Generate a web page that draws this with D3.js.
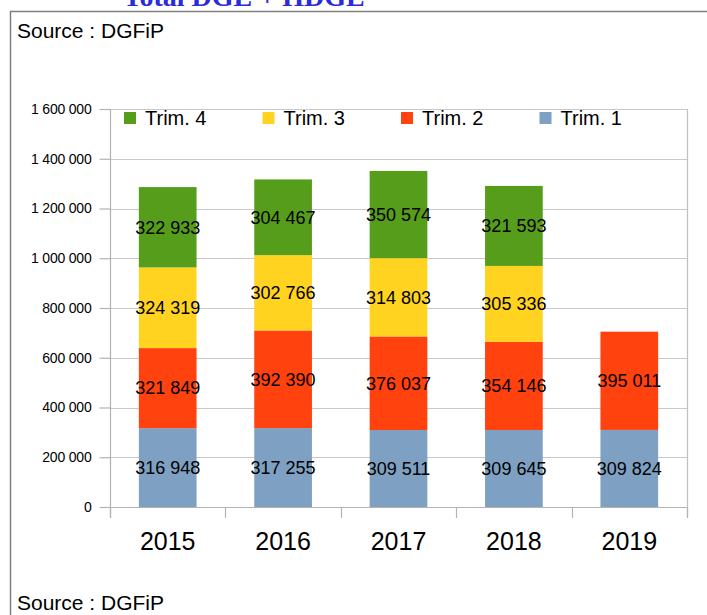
<!DOCTYPE html>
<html>
<head>
<meta charset="utf-8">
<script src="https://cdn.jsdelivr.net/npm/d3@7"></script>
<style>
  body { margin: 0; background: #fff; }
  svg { display: block; font-family: "Liberation Sans", Arial, sans-serif; }
</style>
</head>
<body>
<div id="chart"></div>
<script>
// data
var years = ["2015", "2016", "2017", "2018", "2019"];
var trim1 = [316948, 317255, 309511, 309645, 309824];
var trim2 = [321849, 392390, 376037, 354146, 395011];
var trim3 = [324319, 302766, 314803, 305336, null];
var trim4 = [322933, 304467, 350574, 321593, null];
var seriesNames = ["Trim. 1", "Trim. 2", "Trim. 3", "Trim. 4"];
var legendOrder = ["Trim. 4", "Trim. 3", "Trim. 2", "Trim. 1"];
var yTicks = [0, 200000, 400000, 600000, 800000, 1000000, 1200000, 1400000, 1600000];

var colors = {
    "Trim. 1": "#7ea0c2",
    "Trim. 2": "#ff420e",
    "Trim. 3": "#ffd320",
    "Trim. 4": "#579d1c"
};

var width = 707, height = 615;
var svg = d3.select("#chart").append("svg")
    .attr("width", width).attr("height", height);

var plot = { left: 110, right: 687, top: 109, bottom: 507 };

var x = d3.scaleBand().domain(years)
    .range([plot.left, plot.right]).paddingInner(0.5).paddingOuter(0.25);
var y = d3.scaleLinear().domain([0, 1600000]).range([plot.bottom, plot.top]);

// thousands with a space
var fmt = function(v) { return d3.format(",")(v).replace(/,/g, " "); };

// title (cut off by the top edge, as in the original)
svg.append("text")
    .attr("x", 244).attr("y", 6)
    .attr("text-anchor", "middle")
    .style("font-family", "'Liberation Serif', 'DejaVu Serif', serif")
    .style("font-weight", "bold")
    .style("font-size", "28px")
    .attr("fill", "#2b2bdc")
    .text("Total DGE + HDGE");

// frame
svg.append("path")
    .attr("d", "M10.5," + (height + 5) + "V11.5H" + (width + 5))
    .attr("fill", "none").attr("stroke", "#7f7f7f").attr("stroke-width", 1.5);

svg.append("text").attr("x", 17).attr("y", 38)
    .style("font-size", "21px").attr("fill", "#000").text("Source : DGFiP");
svg.append("text").attr("x", 17).attr("y", 610)
    .style("font-size", "21px").attr("fill", "#000").text("Source : DGFiP");

// grid
svg.append("g").selectAll("line").data(yTicks.slice(1)).join("line")
    .attr("x1", plot.left).attr("x2", plot.right)
    .attr("y1", function(d) { return Math.round(y(d)) + 0.5; })
    .attr("y2", function(d) { return Math.round(y(d)) + 0.5; })
    .attr("stroke", "#c8c8c8").attr("stroke-width", 1.2);

svg.append("line")
    .attr("x1", plot.right + 0.5).attr("x2", plot.right + 0.5)
    .attr("y1", plot.top).attr("y2", plot.bottom + 11)
    .attr("stroke", "#c0c0c0").attr("stroke-width", 1.2);

// y axis
var yAxis = d3.axisLeft(y).tickValues(yTicks).tickSize(11).tickPadding(8)
    .tickFormat(fmt);
var gy = svg.append("g").attr("transform", "translate(" + (plot.left + 0.5) + ",0)").call(yAxis);
gy.select(".domain").attr("d", "M0," + plot.top + "V" + (plot.bottom + 11))
    .attr("stroke", "#b3b3b3").attr("stroke-width", 1.2);
gy.selectAll(".tick line").attr("stroke", "#b3b3b3").attr("stroke-width", 1.2);
gy.selectAll(".tick text")
    .style("font-size", "14px").style("letter-spacing", "-0.2px")
    .attr("fill", "#000");

// x axis baseline + boundary ticks
svg.append("line")
    .attr("x1", plot.left).attr("x2", plot.right)
    .attr("y1", plot.bottom + 0.5).attr("y2", plot.bottom + 0.5)
    .attr("stroke", "#b3b3b3").attr("stroke-width", 1.2);
var bounds = d3.range(years.length + 1).map(function(i) { return plot.left + i * (plot.right - plot.left) / years.length; });
svg.append("g").selectAll("line").data(bounds).join("line")
    .attr("x1", function(d) { return Math.round(d) + 0.5; })
    .attr("x2", function(d) { return Math.round(d) + 0.5; })
    .attr("y1", plot.bottom).attr("y2", plot.bottom + 11)
    .attr("stroke", "#b3b3b3").attr("stroke-width", 1.2);

svg.append("g").selectAll("text").data(years).join("text")
    .attr("x", function(d) { return x(d) + x.bandwidth() / 2; })
    .attr("y", 550)
    .attr("text-anchor", "middle")
    .style("font-size", "25px").attr("fill", "#000")
    .text(function(d) { return d; });

// stacked bars
var table = years.map(function(yr, i) {
    return { year: yr, "Trim. 1": trim1[i], "Trim. 2": trim2[i],
             "Trim. 3": trim3[i] || 0, "Trim. 4": trim4[i] || 0 };
});
var stacked = d3.stack().keys(seriesNames)(table);

var layers = svg.append("g").selectAll("g").data(stacked).join("g")
    .attr("fill", function(d) { return colors[d.key]; });

layers.selectAll("rect").data(function(d) { return d; }).join("rect")
    .attr("x", function(d) { return x(d.data.year); })
    .attr("width", x.bandwidth())
    .attr("y", function(d) { return y(d[1]); })
    .attr("height", function(d) { return y(d[0]) - y(d[1]); });

// value labels, centred in each segment
var labels = svg.append("g");
stacked.forEach(function(layer) {
    layer.forEach(function(d) {
        var v = d[1] - d[0];
        if (!v) return;
        labels.append("text")
            .attr("x", x(d.data.year) + x.bandwidth() / 2)
            .attr("y", (y(d[0]) + y(d[1])) / 2)
            .attr("dy", "0.35em")
            .attr("text-anchor", "middle")
            .style("font-size", "18px").attr("fill", "#000")
            .text(fmt(v));
    });
});

// legend
var leg = svg.append("g").selectAll("g").data(legendOrder).join("g")
    .attr("transform", function(d, i) { return "translate(" + (124 + i * 138.5) + ",112)"; });
leg.append("rect").attr("width", 12).attr("height", 12)
    .attr("fill", function(d) { return colors[d]; });
leg.append("text").attr("x", 21).attr("y", 13)
    .style("font-size", "20px").attr("fill", "#000")
    .text(function(d) { return d; });
</script>
</body>
</html>
